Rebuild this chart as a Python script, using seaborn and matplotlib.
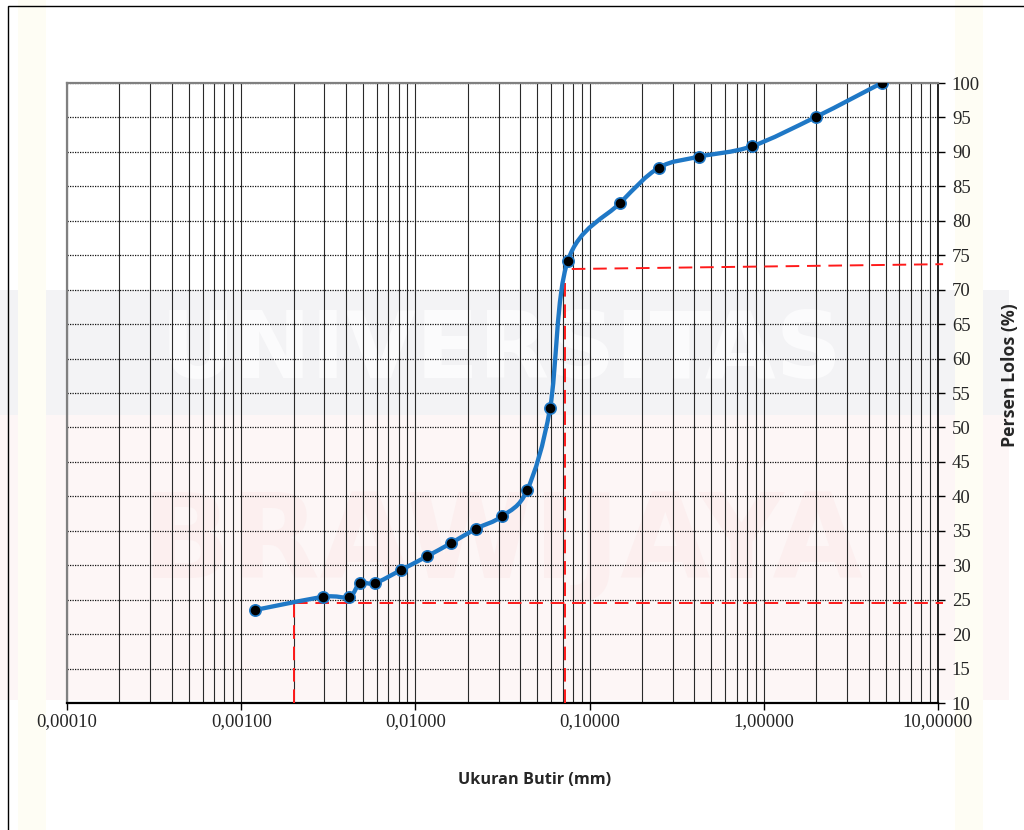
import numpy as np
import matplotlib
matplotlib.use("Agg")
import matplotlib.pyplot as plt
import matplotlib.patches as mpatches
from matplotlib.path import Path
from matplotlib.ticker import FixedLocator, FuncFormatter, NullFormatter
import seaborn as sns

# Grain-size distribution (sieve + hydrometer)
diameter_mm = [0.00120, 0.00295, 0.00416, 0.00481, 0.00586, 0.00826, 0.01167,
               0.0160, 0.0223, 0.0314, 0.0438, 0.0593, 0.075, 0.15, 0.25,
               0.425, 0.85, 2.0, 4.75]
percent_passing = [23.5, 25.4, 25.4, 27.4, 27.4, 29.3, 31.3,
                   33.2, 35.3, 37.1, 40.9, 52.8, 74.2, 82.6, 87.7,
                   89.3, 90.8, 95.1, 100.0]

# Reading guides (clay fraction at 0.002 mm, fines near No. 200 sieve)
clay_d = 0.002
clay_p = 24.5
fines_d = 0.0725
fines_p_start = 73.0
fines_p_end = 73.7
fines_h_start = 0.079
guide_end = 10.7

x_ticks = [0.0001, 0.001, 0.01, 0.1, 1.0, 10.0]
y_ticks = list(range(10, 101, 5))

sns.set_theme(style="white")
plt.rcParams["font.family"] = ["Liberation Serif", "DejaVu Serif"]

fig = plt.figure(figsize=(10.24, 8.30), dpi=100)
fig.patch.set_facecolor("white")

# faint background banner
fig.patches.append(mpatches.Rectangle((0.0, 1 - 415 / 830), 0.985, 125 / 830,
                                      transform=fig.transFigure, facecolor="#f3f3f5",
                                      edgecolor="none", zorder=-10))
fig.patches.append(mpatches.Rectangle((0.0, 1 - 700 / 830), 0.985, 285 / 830,
                                      transform=fig.transFigure, facecolor="#fdf6f6",
                                      edgecolor="none", zorder=-10))
for x0 in (18 / 1024, 955 / 1024):
    fig.patches.append(mpatches.Rectangle((x0, 0.0), 28 / 1024, 1.0,
                                          transform=fig.transFigure, facecolor="#fefdf4",
                                          edgecolor="none", zorder=-9))
fig.text(0.49, 1 - 352 / 830, "UNIVERSITAS", ha="center", va="center",
         fontsize=66, fontweight="bold", family="DejaVu Sans", color="#fbfbfc", zorder=-8)
fig.text(0.49, 1 - 545 / 830, "BRAWIJAYA", ha="center", va="center",
         fontsize=84, fontweight="bold", family="DejaVu Sans", color="#fcefef", zorder=-8)

# outer chart border
fig.patches.append(mpatches.Rectangle((8 / 1024, -0.1), 1.2, 1.1 - 6 / 830,
                                      transform=fig.transFigure, facecolor="none",
                                      edgecolor="black", linewidth=1.0, zorder=5))

ax = fig.add_axes([67 / 1024, 127 / 830, 871 / 1024, 620 / 830])
ax.set_facecolor("none")
ax.set_xscale("log")
ax.set_xlim(1e-4, 10)
ax.set_ylim(10, 100)

# grid: solid log-cycle verticals, dotted horizontals
ax.xaxis.set_major_locator(FixedLocator(x_ticks))
ax.xaxis.set_minor_locator(FixedLocator(
    [m * 10.0 ** e for e in range(-4, 1) for m in range(2, 10)]))
ax.xaxis.set_major_formatter(FuncFormatter(lambda v, p: f"{v:.5f}".replace(".", ",")))
ax.xaxis.set_minor_formatter(NullFormatter())
ax.yaxis.set_major_locator(FixedLocator(y_ticks))
ax.grid(which="both", axis="x", color="#2a2a2a", linewidth=0.8, linestyle="-")
ax.grid(which="major", axis="y", color="#111111", linewidth=0.9, linestyle=(0, (1, 1)))
ax.set_axisbelow(True)

ax.yaxis.tick_right()
ax.yaxis.set_label_position("right")
ax.tick_params(axis="x", which="major", direction="out", length=5, width=1,
               color="black", labelsize=13.5, pad=2, bottom=True)
ax.tick_params(axis="x", which="minor", length=0)
ax.tick_params(axis="y", which="major", direction="out", length=5, width=1,
               color="black", labelsize=13.5, pad=5, right=True, left=False)

for side, col, lw in (("left", "#808080", 1.6), ("top", "#808080", 1.6),
                      ("bottom", "black", 1.6), ("right", "black", 1.2)):
    ax.spines[side].set_visible(True)
    ax.spines[side].set_color(col)
    ax.spines[side].set_linewidth(lw)

# smoothed gradation curve: cubic Bezier segments through the points (log-x space)
lx = np.log10(diameter_mm)
yy = np.asarray(percent_passing)
pts = np.column_stack([lx, yy])
ext = np.vstack([pts[0], pts, pts[-1]])
verts = [pts[0]]
codes = [Path.MOVETO]
for i in range(len(pts) - 1):
    p0, p1, p2, p3 = ext[i], ext[i + 1], ext[i + 2], ext[i + 3]
    c1 = p1 + (p2 - p0) / 6.0
    c2 = p2 - (p3 - p1) / 6.0
    verts += [c1, c2, p2]
    codes += [Path.CURVE4] * 3
verts = np.array(verts)
verts[:, 0] = 10.0 ** verts[:, 0]
ax.add_patch(mpatches.PathPatch(Path(verts, codes), facecolor="none",
                                edgecolor="#1f78c6", linewidth=3.1,
                                capstyle="round", joinstyle="round", zorder=4))

sns.scatterplot(x=diameter_mm, y=percent_passing, ax=ax, color="black",
                edgecolor="#1f78c6", linewidth=1.2, s=66, zorder=5, legend=False)

# red dashed reading guides
dash = dict(color="#ff1a1a", linewidth=1.4, linestyle=(0, (7, 4)), clip_on=False, zorder=3)
ax.plot([clay_d, clay_d], [10, clay_p], **dash)
ax.plot([clay_d, guide_end], [clay_p, clay_p], **dash)
ax.plot([fines_d, fines_d], [10, fines_p_start], **dash)
ax.plot([fines_h_start, guide_end], [fines_p_start, fines_p_end], **dash)

label_font = dict(family=["Open Sans", "DejaVu Sans"], fontweight="bold")
ax.set_xlabel("Ukuran Butir (mm)", va="center", ha="center", fontsize=11.7, **label_font)
ax.xaxis.set_label_coords((535 - 67) / 871, -(780 - 703) / 620)
ax.set_ylabel("Persen Lolos (%)", va="center", ha="center", rotation=90,
              fontsize=12.8, **label_font)
ax.yaxis.set_label_coords((1010 - 67) / 871, (703 - 375) / 620)

fig.savefig("out.png", dpi=100, facecolor=fig.get_facecolor())
